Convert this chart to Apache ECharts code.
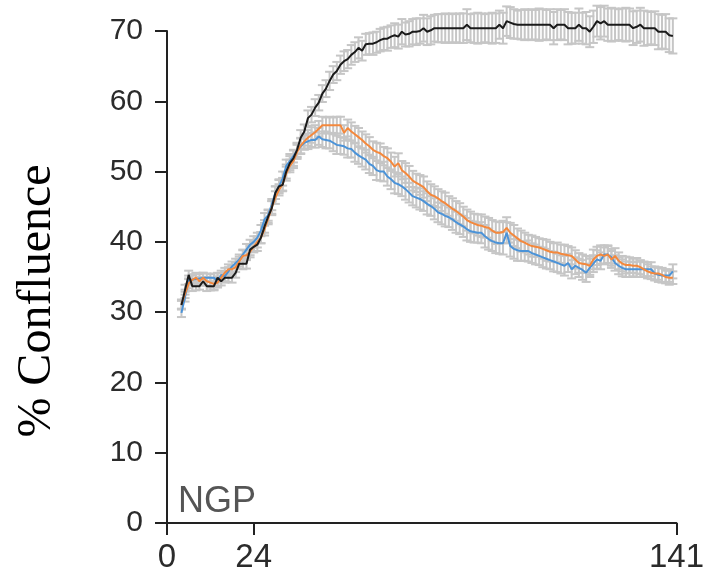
<!DOCTYPE html>
<html>
<head>
<meta charset="utf-8">
<script src="https://cdn.jsdelivr.net/npm/echarts@6/dist/echarts.min.js"></script>
<style>
html,body{margin:0;padding:0;background:#fff;}
#chart{width:707px;height:581px;}
</style>
</head>
<body>
<div id="chart"></div>
<script>
// Time points (hours)
var hours = [4,5,6,7,8,9,10,11,12,13,14,15,16,17,18,19,20,21,22,23,24,25,26,27,28,29,30,31,32,33,34,35,36,37,38,39,40,41,42,43,44,45,46,47,48,49,50,51,52,53,54,55,56,57,58,59,60,61,62,63,64,65,66,67,68,69,70,71,72,73,74,75,76,77,78,79,80,81,82,83,84,85,86,87,88,89,90,91,92,93,94,95,96,97,98,99,100,101,102,103,104,105,106,107,108,109,110,111,112,113,114,115,116,117,118,119,120,121,122,123,124,125,126,127,128,129,130,131,132,133,134,135,136,137,138,139,140];

// X tick labels
var xTicks = [0, 24, 141];

// Black series (% confluence)
var blackVals = [31.0,33.2,35.3,33.7,33.7,33.7,34.4,33.7,33.7,33.7,34.9,34.4,34.9,34.9,34.9,35.6,
36.9,36.9,36.9,38.9,39.3,39.6,40.6,42.2,43.6,44.8,47.0,47.9,48.1,50.0,51.2,51.9,53.1,54.8,55.7,57.6,
58.1,59.1,59.8,61.1,61.8,62.9,63.8,64.3,65.2,65.7,66.0,66.6,67.0,67.6,67.2,68.1,68.2,68.2,68.4,68.7,
68.9,68.9,69.2,69.4,69.2,69.9,69.5,69.6,69.9,69.9,70.0,70.4,69.9,70.1,70.4,70.4,70.4,70.4,70.4,70.4,
70.4,70.4,70.4,70.9,70.4,70.4,70.4,70.4,70.4,70.4,70.4,70.4,70.9,70.4,71.4,71.2,71.0,70.9,70.9,70.9,
70.9,70.9,70.9,70.9,70.9,70.9,70.9,70.4,70.9,70.9,70.9,70.4,70.4,70.4,70.9,70.4,70.4,69.9,70.6,71.4,
71.1,71.4,70.9,70.9,70.9,70.9,70.9,70.9,70.9,70.4,70.6,70.9,70.4,70.4,70.4,70.4,69.9,69.9,69.9,69.4,69.3];

// Orange series
var orangeVals = [31.1,32.6,34.1,34.6,34.9,34.4,34.9,34.4,34.2,34.0,34.2,34.9,35.6,36.1,36.1,36.4,
37.2,38.0,38.1,38.6,39.3,40.0,40.6,41.8,43.3,44.9,46.3,47.4,48.2,49.7,50.8,51.5,52.8,53.7,54.3,54.8,
55.2,55.6,56.1,56.6,56.6,56.6,56.6,56.6,56.6,55.5,56.2,55.7,55.3,54.9,54.5,54.0,53.6,53.1,52.8,52.6,
52.2,51.9,51.4,50.7,51.2,50.2,49.8,49.3,48.7,48.4,48.1,47.8,47.2,46.7,46.5,46.2,45.8,45.5,45.1,44.7,
44.4,44.0,43.6,43.1,42.8,42.6,42.4,42.3,42.1,42.0,41.6,41.3,41.3,41.4,42.0,41.3,40.9,40.5,40.1,39.9,
39.6,39.4,39.3,39.2,39.0,38.8,38.6,38.5,38.5,38.3,38.2,38.1,38.0,37.5,37.0,36.9,36.8,36.6,37.5,38.0,
38.2,38.0,38.2,37.5,38.0,37.3,36.9,36.7,36.7,36.6,36.6,36.4,36.1,35.8,35.6,35.5,35.5,35.3,35.0,34.9,34.9];

// Blue series
var blueVals = [29.9,32.2,34.6,34.6,34.7,34.8,34.9,34.9,34.9,34.9,34.4,35.3,35.1,35.8,36.5,37.0,
37.5,38.2,38.9,39.6,40.0,40.6,41.6,43.2,43.8,45.3,47.0,47.9,49.0,50.8,51.5,52.2,53.0,53.6,54.1,54.3,
54.5,54.5,55.0,54.6,54.5,54.4,54.1,53.8,53.7,53.6,53.3,53.2,52.7,52.3,52.0,51.7,51.1,50.8,50.2,50.0,
50.0,49.3,48.9,48.4,48.2,47.9,47.5,47.0,46.5,46.3,46.1,45.8,45.4,45.1,44.7,44.2,44.0,43.7,43.5,43.2,
42.8,42.5,42.2,41.8,41.5,41.4,41.3,41.3,40.8,40.4,40.1,39.9,39.8,39.8,41.3,39.4,39.0,38.8,38.7,38.7,
38.7,38.4,38.2,38.0,37.8,37.6,37.4,37.2,37.0,36.8,36.6,37.0,36.1,36.6,36.3,36.0,35.6,36.3,36.9,37.5,
37.3,38.2,38.2,37.8,37.0,36.6,36.3,36.1,36.1,36.1,36.1,36.1,36.1,36.1,36.1,35.5,35.3,35.2,35.2,35.2,35.8];

// Error half-widths (SD)
var blackErr = [0.6,0.7,0.6,0.7,0.6,0.5,0.6,0.7,0.6,0.6,0.7,0.6,0.7,0.6,0.7,0.7,
0.7,0.8,0.7,0.8,0.8,0.9,0.8,0.9,0.9,1.0,0.9,1.0,0.9,1.0,1.0,1.1,1.0,1.1,1.0,1.1,
1.1,1.2,1.1,1.2,1.2,1.3,1.2,1.3,1.3,1.4,1.3,1.4,1.4,1.5,1.4,1.5,1.5,1.6,1.5,1.6,
1.6,1.7,1.6,1.7,1.7,1.8,1.7,1.8,1.8,1.9,1.8,1.9,1.9,2.0,1.9,2.0,2.0,2.1,2.0,2.1,
2.0,2.1,2.1,2.2,2.0,2.1,2.2,2.1,2.0,2.1,2.2,2.1,2.0,2.2,2.1,2.2,2.1,2.0,2.1,2.2,
2.1,2.2,2.1,2.3,2.2,2.1,2.2,2.3,2.2,2.1,2.2,2.3,2.2,2.2,2.3,2.2,2.3,2.2,2.3,2.2,
2.3,2.2,2.3,2.4,2.3,2.2,2.3,2.4,2.3,2.4,2.3,2.4,2.5,2.4,2.3,2.4,2.5,2.4,2.5,2.4,2.5];

var orangeErr = [0.7,0.6,0.7,0.8,0.7,0.6,0.7,0.6,0.7,0.8,0.7,0.6,0.7,0.7,0.6,0.7,
0.7,0.8,0.7,0.8,0.7,0.8,0.8,0.9,0.8,0.9,0.9,0.8,0.9,1.0,0.9,1.0,1.0,1.1,1.0,1.1,
1.1,1.0,1.1,1.2,1.1,1.2,1.1,1.2,1.2,1.1,1.2,1.3,1.2,1.3,1.2,1.3,1.3,1.2,1.3,1.4,
1.3,1.4,1.3,1.4,1.4,1.3,1.4,1.5,1.4,1.3,1.4,1.5,1.4,1.5,1.4,1.3,1.4,1.5,1.4,1.5,
1.4,1.5,1.4,1.5,1.5,1.4,1.5,1.6,1.5,1.4,1.5,1.6,1.5,1.6,1.5,1.4,1.5,1.4,1.5,1.4,
1.4,1.5,1.4,1.3,1.4,1.5,1.4,1.3,1.4,1.3,1.4,1.3,1.2,1.3,1.4,1.3,1.2,1.3,1.4,1.3,
1.3,1.2,1.3,1.2,1.1,1.2,1.1,1.2,1.1,1.0,1.1,1.0,1.1,1.0,0.9,1.0,0.9,1.0,0.9,1.0,0.9];

var blueErr = [0.6,0.7,0.6,0.6,0.7,0.6,0.7,0.6,0.5,0.6,0.7,0.6,0.7,0.6,0.7,0.6,
0.7,0.7,0.8,0.7,0.8,0.7,0.8,0.9,0.8,0.8,0.9,0.9,1.0,0.9,1.0,0.9,1.0,1.1,1.0,1.1,
1.0,1.1,1.2,1.1,1.2,1.1,1.2,1.3,1.2,1.2,1.3,1.2,1.3,1.2,1.3,1.4,1.3,1.3,1.4,1.3,
1.4,1.3,1.4,1.5,1.4,1.4,1.5,1.4,1.3,1.4,1.5,1.4,1.5,1.4,1.5,1.4,1.5,1.5,1.4,1.5,
1.5,1.4,1.5,1.6,1.5,1.5,1.4,1.5,1.6,1.5,1.4,1.5,1.5,1.6,1.5,1.5,1.4,1.5,1.4,1.4,
1.5,1.4,1.4,1.3,1.4,1.4,1.3,1.4,1.3,1.3,1.4,1.3,1.3,1.2,1.3,1.4,1.3,1.3,1.2,1.3,
1.2,1.3,1.2,1.2,1.1,1.2,1.2,1.1,1.1,1.0,1.1,1.1,1.0,1.0,1.0,0.9,1.0,1.0,0.9,0.9,1.0];

// Y ticks
var yMin = 0, yMax = 70, yStep = 10;

function pairs(vals) {
  return hours.map(function (h, i) { return [h, vals[i]]; });
}
function errData(vals, errs) {
  return hours.map(function (h, i) { return [h, vals[i] - errs[i], vals[i] + errs[i]]; });
}
function renderErr(params, api) {
  var x = api.value(0);
  var lo = api.coord([x, api.value(1)]);
  var hi = api.coord([x, api.value(2)]);
  var w = 4.5;
  var st = { stroke: '#c6c6c6', lineWidth: 2 };
  return {
    type: 'group',
    children: [
      { type: 'line', shape: { x1: lo[0], y1: lo[1], x2: hi[0], y2: hi[1] }, style: st },
      { type: 'line', shape: { x1: lo[0] - w, y1: lo[1], x2: lo[0] + w, y2: lo[1] }, style: st },
      { type: 'line', shape: { x1: hi[0] - w, y1: hi[1], x2: hi[0] + w, y2: hi[1] }, style: st }
    ]
  };
}

var chart = echarts.init(document.getElementById('chart'), null, { renderer: 'canvas' });
var axisColor = '#222222';
var labelColor = '#2b2b2b';
var sans = '"Liberation Sans", Arial, Helvetica, sans-serif';

chart.setOption({
  animation: false,
  backgroundColor: '#ffffff',
  grid: { left: 167, right: 29, top: 31, bottom: 58, containLabel: false },
  xAxis: {
    type: 'value',
    min: 0,
    max: 141,
    axisLine: { show: true, onZero: false, lineStyle: { color: axisColor, width: 2 } },
    axisTick: { show: true, length: 12, customValues: xTicks, lineStyle: { color: axisColor, width: 2 } },
    axisLabel: { show: true, customValues: xTicks, fontSize: 33, fontFamily: sans, color: labelColor, margin: 18 },
    splitLine: { show: false }
  },
  yAxis: {
    type: 'value',
    min: yMin,
    max: yMax,
    interval: yStep,
    axisLine: { show: true, lineStyle: { color: axisColor, width: 2 } },
    axisTick: { show: true, length: 12, lineStyle: { color: axisColor, width: 2 } },
    axisLabel: { fontSize: 30, fontFamily: sans, color: labelColor, margin: 24 },
    splitLine: { show: false }
  },
  graphic: [
    {
      type: 'text', x: 37, y: 301, rotation: Math.PI / 2,
      style: { text: '% Confluence', font: '48px "Liberation Serif", "Times New Roman", serif', fill: '#000', align: 'center', verticalAlign: 'middle' }
    },
    {
      type: 'text', x: 178, y: 502,
      style: { text: 'NGP', font: '36px ' + sans, fill: '#555555', align: 'left', verticalAlign: 'middle' }
    }
  ],
  series: [
    { type: 'custom', name: 'errBlack', renderItem: renderErr, data: errData(blackVals, blackErr), encode: { x: 0, y: [1, 2] }, clip: false, z: 1, silent: true },
    { type: 'custom', name: 'errOrange', renderItem: renderErr, data: errData(orangeVals, orangeErr), encode: { x: 0, y: [1, 2] }, clip: false, z: 1, silent: true },
    { type: 'custom', name: 'errBlue', renderItem: renderErr, data: errData(blueVals, blueErr), encode: { x: 0, y: [1, 2] }, clip: false, z: 1, silent: true },
    { type: 'line', name: 'blue', data: pairs(blueVals), showSymbol: false, clip: false, lineStyle: { color: '#4b93d8', width: 2 }, itemStyle: { color: '#4b93d8' }, z: 3 },
    { type: 'line', name: 'orange', data: pairs(orangeVals), showSymbol: false, clip: false, lineStyle: { color: '#f4883c', width: 2 }, itemStyle: { color: '#f4883c' }, z: 4 },
    { type: 'line', name: 'black', data: pairs(blackVals), showSymbol: false, clip: false, lineStyle: { color: '#1a1a1a', width: 2 }, itemStyle: { color: '#1a1a1a' }, z: 5 }
  ]
});
</script>
</body>
</html>
